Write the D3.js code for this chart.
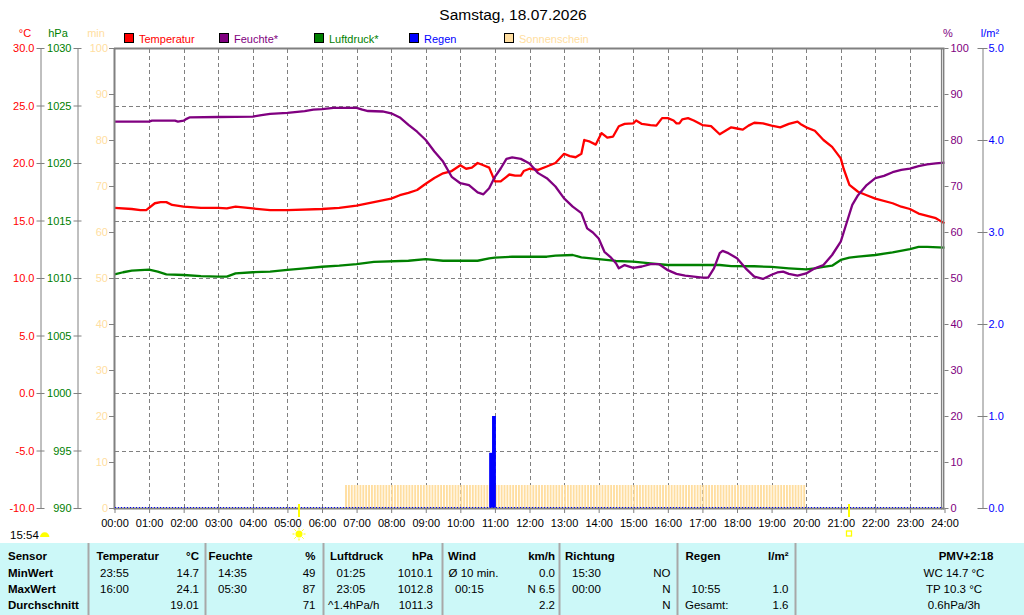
<!DOCTYPE html>
<html>
<head>
<meta charset="utf-8">
<script src="https://cdn.jsdelivr.net/npm/d3@7"></script>
<style>
  body { margin: 0; background: #fff; }
  svg { display: block; font-family: "Liberation Sans", Arial, sans-serif; }
  .grid line { stroke: #808080; stroke-dasharray: 4,3; }
  .frame { stroke: #808080; }
</style>
</head>
<body>
<div id="chart"></div>
<script>
// ---- data ----
const title = "Samstag, 18.07.2026";

const hourLabels = ["00:00","01:00","02:00","03:00","04:00","05:00","06:00","07:00","08:00","09:00","10:00","11:00","12:00",
  "13:00","14:00","15:00","16:00","17:00","18:00","19:00","20:00","21:00","22:00","23:00","24:00"];

const tempTicks = [30, 25, 20, 15, 10, 5, 0, -5, -10];
const tempTickLabels = ["30.0","25.0","20.0","15.0","10.0","5.0","0.0","-5.0","-10.0"];
const pressTicks = [1030, 1025, 1020, 1015, 1010, 1005, 1000, 995, 990];
const minTicks = [100, 90, 80, 70, 60, 50, 40, 30, 20, 10, 0];
const humTicks = [100, 90, 80, 70, 60, 50, 40, 30, 20, 10, 0];
const rainTicks = [5, 4, 3, 2, 1, 0];
const rainTickLabels = ["5.0","4.0","3.0","2.0","1.0","0.0"];

const legendLabels = ["Temperatur", "Feuchte*", "Luftdruck*", "Regen", "Sonnenschein"];
const legendColors = ["#ff0000", "#800080", "#008000", "#0000ff", "#ffdea0"];

const tempTimes = ["00:00","00:30","00:45","00:55","01:10","01:20","01:30","01:40","02:00","02:30","03:00","03:15","03:30",
  "04:00","04:30","05:00","06:00","06:30","07:00","07:30","08:00","08:15","08:30","08:45","09:00","09:15","09:30","09:45",
  "10:00","10:10","10:20","10:30","10:40","10:50","11:00","11:10","11:20","11:25","11:35","11:45","11:50","12:00","12:15",
  "12:30","12:45","13:00","13:10","13:20","13:30","13:35","13:45","13:55","14:05","14:15","14:25","14:35","14:45","15:00",
  "15:05","15:15","15:30","15:40","15:50","16:00","16:10","16:15","16:20","16:25","16:35","16:45","17:00","17:15","17:30",
  "17:40","17:50","18:00","18:10","18:20","18:30","18:45","19:00","19:15","19:30","19:45","19:50","20:00","20:15","20:30",
  "20:45","21:00","21:05","21:15","21:30","21:45","22:00","22:30","22:45","23:00","23:15","23:30","23:45","24:00"];
const tempValues = [16.1,16.0,15.9,15.9,16.5,16.6,16.6,16.35,16.2,16.1,16.1,16.05,16.2,
  16.05,15.9,15.9,16.0,16.1,16.3,16.6,16.9,17.2,17.4,17.65,18.2,18.7,19.1,19.3,
  19.8,19.5,19.6,20.0,19.8,19.6,18.4,18.4,18.8,19.0,18.9,18.9,19.3,19.5,19.4,
  19.7,20.0,20.8,20.6,20.5,20.8,22.0,21.85,21.6,22.6,22.2,22.3,23.2,23.4,23.45,
  23.7,23.4,23.3,23.25,23.9,23.9,23.7,23.45,23.45,23.8,23.9,23.7,23.3,23.2,22.5,
  22.8,23.1,23.0,22.9,23.25,23.5,23.45,23.25,23.1,23.4,23.6,23.4,23.1,22.8,22.0,
  21.4,20.4,19.5,18.1,17.5,17.2,16.9,16.5,16.2,16.0,15.6,15.4,15.2,14.75];

const humTimes = ["00:00","01:00","01:05","01:45","01:50","02:00","02:05","02:10","03:00","04:00","04:15","04:30","05:00",
  "05:30","05:45","06:00","06:20","07:00","07:10","07:20","07:45","08:00","08:15","08:30","08:45","09:00","09:15","09:30",
  "09:45","10:00","10:15","10:30","10:40","10:50","11:00","11:10","11:20","11:30","11:45","12:00","12:15","12:30","12:45",
  "13:00","13:15","13:30","13:40","13:50","14:00","14:10","14:20","14:30","14:35","14:45","15:00","15:15","15:30","15:45",
  "16:00","16:15","16:30","16:45","17:00","17:10","17:20","17:30","17:35","17:45","18:00","18:15","18:30","18:45","19:00",
  "19:10","19:20","19:30","19:45","20:00","20:15","20:30","20:45","21:00","21:10","21:20","21:30","21:45","22:00","22:15",
  "22:30","22:45","23:00","23:15","23:30","23:45","24:00"];
const humValues = [84.0,84.0,84.2,84.2,84.0,84.2,84.6,84.9,85.0,85.1,85.4,85.7,85.9,
  86.3,86.6,86.7,87.0,87.0,86.6,86.3,86.2,85.8,84.9,83.3,81.8,80.0,77.5,75.3,
  72.0,70.6,70.2,68.6,68.2,69.5,72.0,73.8,75.9,76.2,75.9,74.9,72.8,71.7,69.9,
  67.3,65.5,64.1,60.8,59.9,58.6,55.7,54.6,53.2,52.1,52.8,52.2,52.5,53.0,53.0,
  51.7,50.9,50.5,50.3,50.1,50.1,52.1,55.4,55.9,55.4,54.3,52.1,50.3,49.8,50.7,
  51.2,51.4,50.9,50.5,51.0,52.1,52.8,55.0,57.9,61.9,65.9,68.0,70.2,71.7,72.2,
  73.0,73.5,73.8,74.3,74.7,74.9,75.1];

const pressTimes = ["00:00","00:15","00:30","01:00","01:15","01:30","02:00","02:30","03:00","03:15","03:30","04:00","04:30",
  "05:00","05:30","06:00","06:30","07:00","07:30","08:30","09:00","09:30","10:30","10:50","11:00","11:30","12:30","12:45",
  "13:15","13:30","14:00","14:30","15:00","15:30","16:00","17:30","17:50","18:30","19:00","19:30","20:00","20:15","20:30",
  "20:45","21:00","21:15","21:30","22:00","22:30","23:00","23:15","23:30","24:00"];
const pressValues = [1010.32,1010.5,1010.64,1010.72,1010.55,1010.32,1010.26,1010.17,1010.12,1010.12,1010.4,1010.5,1010.55,
  1010.7,1010.84,1010.98,1011.07,1011.2,1011.4,1011.5,1011.65,1011.5,1011.5,1011.7,1011.77,1011.85,1011.85,1011.94,
  1012.0,1011.8,1011.65,1011.48,1011.42,1011.28,1011.13,1011.13,1011.04,1011.02,1010.96,1010.84,1010.75,1010.84,1010.96,
  1011.07,1011.57,1011.77,1011.85,1012.0,1012.23,1012.52,1012.7,1012.7,1012.64];

// rain per 5-minute slot (l/m²)
const rainTimes = ["10:50", "10:55"];
const rainValues = [0.6, 1.0];

// sunshine: every 5-minute slot in this period had full sun (5 min)
const sunPeriodStart = "06:40";
const sunPeriodEnd = "20:00";
const sunMinutesPerSlot = 5;

const sunrise = "05:20";
const sunset = "21:14";
const sunDuration = "15:54";

const tableSensor = ["Sensor", "MinWert", "MaxWert", "Durchschnitt"];
const tableCols = [
  [["Temperatur", "°C"], ["23:55", "14.7"], ["16:00", "24.1"], ["", "19.01"]],
  [["Feuchte", "%"], ["14:35", "49"], ["05:30", "87"], ["", "71"]],
  [["Luftdruck", "hPa"], ["01:25", "1010.1"], ["23:05", "1012.8"], ["^1.4hPa/h", "1011.3"]],
  [["Wind", "km/h"], ["Ø 10 min.", "0.0"], ["00:15", "N 6.5"], ["", "2.2"]],
  [["Richtung", ""], ["15:30", "NO"], ["00:00", "N"], ["", "N"]],
  [["Regen", "l/m²"], ["", ""], ["10:55", "1.0"], ["Gesamt:", "1.6"]]
];
const tableExtra = ["PMV+2:18", "WC 14.7 °C", "TP 10.3 °C", "0.6hPa/3h"];

// ---- drawing ----
const width = 1024, height = 615;
const fs = 11;      // chart text
const tfs = 11.5;   // table text

const svg = d3.select("#chart").append("svg")
  .attr("width", width)
  .attr("height", height);

const toHours = s => { const p = s.split(":"); return +p[0] + p[1] / 60; };

const x = d3.scaleLinear().domain([0, 24]).range([114.5, 944.5]);
const yTemp = d3.scaleLinear().domain([-10, 30]).range([508, 48]);
const yPress = d3.scaleLinear().domain([990, 1030]).range([508, 48]);
const yMin = d3.scaleLinear().domain([0, 100]).range([508, 48]);
const yHum = d3.scaleLinear().domain([0, 100]).range([508, 48]);
const yRain = d3.scaleLinear().domain([0, 5]).range([508, 48]);

// title
svg.append("text")
  .attr("x", 513).attr("y", 19.5)
  .attr("text-anchor", "middle")
  .style("font-size", "15.5px")
  .text(title);

// grid
const grid = svg.append("g").attr("class", "grid");
grid.selectAll(".h").data(tempTicks.slice(1, -1)).enter().append("line")
  .attr("x1", 115).attr("x2", 941)
  .attr("y1", d => Math.round(yTemp(d)) + 0.5).attr("y2", d => Math.round(yTemp(d)) + 0.5);
grid.selectAll(".v").data(d3.range(1, 24)).enter().append("line")
  .attr("x1", d => Math.round(x(d)) + 0.5).attr("x2", d => Math.round(x(d)) + 0.5)
  .attr("y1", 49).attr("y2", 508);

// sunshine bars (5-minute slots)
const sunSlots = [];
for (let t = toHours(sunPeriodStart); t < toHours(sunPeriodEnd) - 1e-6; t += 5 / 60) sunSlots.push({t: t, v: sunMinutesPerSlot});
svg.append("g").selectAll("rect").data(sunSlots).enter().append("rect")
  .attr("x", d => x(d.t))
  .attr("width", d => x(d.t + 5 / 60) - x(d.t) - 1)
  .attr("y", d => yMin(d.v))
  .attr("height", d => yMin(0) - yMin(d.v))
  .attr("fill", "#ffdea0");

// rain bars
svg.append("g").selectAll("rect").data(rainTimes).enter().append("rect")
  .attr("x", d => x(toHours(d)))
  .attr("width", d => x(toHours(d) + 5 / 60) - x(toHours(d)) + 1)
  .attr("y", (d, i) => yRain(rainValues[i]))
  .attr("height", (d, i) => yRain(0) - yRain(rainValues[i]))
  .attr("fill", "#0000ff");

// lines
function drawLine(times, values, yScale, color) {
  const pts = times.map((t, i) => [x(toHours(t)), yScale(values[i])]);
  svg.append("path")
    .attr("d", d3.line()(pts))
    .attr("fill", "none")
    .attr("stroke", color)
    .attr("stroke-width", 2.3)
    .attr("stroke-linejoin", "round");
}
drawLine(pressTimes, pressValues, yPress, "#008000");
drawLine(tempTimes, tempValues, yTemp, "#ff0000");
drawLine(humTimes, humValues, yHum, "#800080");

// frame
svg.append("line").attr("class", "frame").attr("x1", 114).attr("x2", 944.5).attr("y1", 48.5).attr("y2", 48.5).attr("stroke-width", 2);
svg.append("line").attr("class", "frame").attr("x1", 114.5).attr("x2", 114.5).attr("y1", 48).attr("y2", 509.5).attr("stroke-width", 2);
svg.append("line").attr("class", "frame").attr("x1", 114).attr("x2", 944.5).attr("y1", 508.5).attr("y2", 508.5).attr("stroke-width", 2);
svg.append("line").attr("class", "frame").attr("x1", 941.5).attr("x2", 941.5).attr("y1", 48).attr("y2", 509.5).attr("stroke-width", 1.2);
svg.append("line").attr("class", "frame").attr("x1", 943.6).attr("x2", 943.6).attr("y1", 48).attr("y2", 509.5).attr("stroke-width", 1.6);
// rain zero line
svg.append("line").attr("x1", 115).attr("x2", 941).attr("y1", 507.5).attr("y2", 507.5)
  .attr("stroke", "#0000ff").attr("stroke-dasharray", "1,2");

// axis styling helper
function styleAxis(g, color) {
  g.attr("font-family", null).attr("font-size", null);
  g.select(".domain").attr("stroke", "#808080");
  g.selectAll(".tick line").attr("stroke", "#808080");
  g.selectAll("text").attr("fill", color).style("font-size", fs + "px");
}

// x axis
const xAxis = d3.axisBottom(x).tickValues(d3.range(0, 25)).tickFormat((d, i) => hourLabels[i])
  .tickSize(4).tickPadding(6).tickSizeOuter(0);
const gx = svg.append("g").attr("transform", "translate(0,509)").call(xAxis);
gx.select(".domain").remove();
styleAxis(gx, "#000");

// y axes
const gT = svg.append("g").attr("transform", "translate(40.5,0)")
  .call(d3.axisLeft(yTemp).tickValues(tempTicks).tickFormat((d, i) => tempTickLabels[i]).tickSize(4).tickPadding(2).tickSizeOuter(0));
gT.selectAll(".tick line").attr("x1", 4);
styleAxis(gT, "#ff0000");

const gP = svg.append("g").attr("transform", "translate(77.5,0)")
  .call(d3.axisLeft(yPress).tickValues(pressTicks).tickFormat(d3.format("d")).tickSize(4).tickPadding(2).tickSizeOuter(0));
gP.selectAll(".tick line").attr("x1", 4);
styleAxis(gP, "#008000");

const gM = svg.append("g").attr("transform", "translate(114,0)")
  .call(d3.axisLeft(yMin).tickValues(minTicks).tickFormat(d3.format("d")).tickSize(5).tickPadding(1).tickSizeOuter(0));
gM.select(".domain").remove();
styleAxis(gM, "#ffdea0");

const gH = svg.append("g").attr("transform", "translate(944.5,0)")
  .call(d3.axisRight(yHum).tickValues(humTicks).tickFormat(d3.format("d")).tickSize(4).tickPadding(2).tickSizeOuter(0));
gH.select(".domain").remove();
styleAxis(gH, "#800080");

const gR = svg.append("g").attr("transform", "translate(982.5,0)")
  .call(d3.axisRight(yRain).tickValues(rainTicks).tickFormat((d, i) => rainTickLabels[i]).tickSize(5).tickPadding(1).tickSizeOuter(0));
gR.selectAll(".tick line").attr("x1", -5);
styleAxis(gR, "#0000ff");

// axis unit labels
const units = [["°C", 25, "#ff0000"], ["hPa", 58, "#008000"], ["min", 96, "#ffdea0"], ["%", 948, "#800080"], ["l/m²", 990, "#0000ff"]];
svg.append("g").selectAll("text").data(units).enter().append("text")
  .attr("x", d => d[1]).attr("y", 37)
  .attr("text-anchor", "middle")
  .attr("fill", d => d[2])
  .style("font-size", fs + "px")
  .text(d => d[0]);

// legend
const leg = svg.append("g").selectAll("g").data(legendLabels).enter().append("g")
  .attr("transform", (d, i) => `translate(${124.5 + i * 95},33.5)`);
leg.append("rect").attr("width", 9).attr("height", 9)
  .attr("fill", (d, i) => legendColors[i]).attr("stroke", "#000");
leg.append("text").attr("x", 14.5).attr("y", 9)
  .attr("fill", (d, i) => legendColors[i])
  .style("font-size", fs + "px")
  .text(d => d);

// sunrise / sunset marks
const srx = Math.round(x(toHours(sunrise)));
const ssx = Math.round(x(toHours(sunset)));
svg.append("line").attr("x1", srx).attr("x2", srx).attr("y1", 504).attr("y2", 517).attr("stroke", "#ffff00").attr("stroke-width", 2);
svg.append("line").attr("x1", ssx).attr("x2", ssx).attr("y1", 504).attr("y2", 517).attr("stroke", "#ffff00").attr("stroke-width", 2);
const sun = svg.append("g").attr("transform", `translate(${srx},534)`);
sun.append("circle").attr("r", 3.5).attr("fill", "#ffff00");
sun.selectAll("line").data(d3.range(8)).enter().append("line")
  .attr("x1", d => Math.cos(d * Math.PI / 4) * 4.5).attr("y1", d => Math.sin(d * Math.PI / 4) * 4.5)
  .attr("x2", d => Math.cos(d * Math.PI / 4) * 6.5).attr("y2", d => Math.sin(d * Math.PI / 4) * 6.5)
  .attr("stroke", "#ffff00").attr("stroke-width", 1);
svg.append("rect").attr("x", ssx - 2.5).attr("y", 531).attr("width", 5).attr("height", 5)
  .attr("fill", "none").attr("stroke", "#ffff00").attr("stroke-width", 1.3);

svg.append("text").attr("x", 10).attr("y", 538.5).style("font-size", tfs + "px").text(sunDuration);
svg.append("path").attr("d", "M40,537 A4.7,4.7 0 0 1 49.4,537 Z").attr("fill", "#ffff00");

// bottom table
const tbl = svg.append("g");
tbl.append("rect").attr("x", 0).attr("y", 543).attr("width", width).attr("height", height - 543).attr("fill", "#ccf8f8");
const seps = [88, 205, 323, 442, 559, 677, 795];
tbl.selectAll("line").data(seps).enter().append("line")
  .attr("x1", d => d + 0.5).attr("x2", d => d + 0.5).attr("y1", 543).attr("y2", 615)
  .attr("stroke", "#a8a8a8").attr("stroke-width", 2);

const rowY = [560, 576.5, 592.5, 608.5];
tbl.selectAll(".sensor").data(tableSensor).enter().append("text")
  .attr("x", 8).attr("y", (d, i) => rowY[i])
  .style("font-size", tfs + "px").style("font-weight", "bold")
  .text(d => d);

// per column: left x for header and rows, right edge
const colLeft = [[96.5, 100, 100, 100], [208.5, 218, 218, 218], [330, 336.5, 336.5, 328],
  [448, 448.5, 455, 455], [565, 572, 572, 572], [685.5, 691.5, 691.5, 685]];
const colRight = [199, 315.5, 433, 555, 670.5, 788.5];
tableCols.forEach((col, c) => {
  col.forEach((cell, r) => {
    tbl.append("text").attr("x", colLeft[c][r]).attr("y", rowY[r])
      .style("font-size", tfs + "px").style("font-weight", r === 0 ? "bold" : "normal")
      .text(cell[0]);
    tbl.append("text").attr("x", colRight[c]).attr("y", rowY[r])
      .attr("text-anchor", "end")
      .style("font-size", tfs + "px").style("font-weight", r === 0 ? "bold" : "normal")
      .text(cell[1]);
  });
});
tbl.selectAll(".extra").data(tableExtra).enter().append("text")
  .attr("x", (d, i) => i === 0 ? 966 : 954).attr("y", (d, i) => rowY[i])
  .attr("text-anchor", "middle")
  .style("font-size", tfs + "px").style("font-weight", (d, i) => i === 0 ? "bold" : "normal")
  .text(d => d);
</script>
</body>
</html>
